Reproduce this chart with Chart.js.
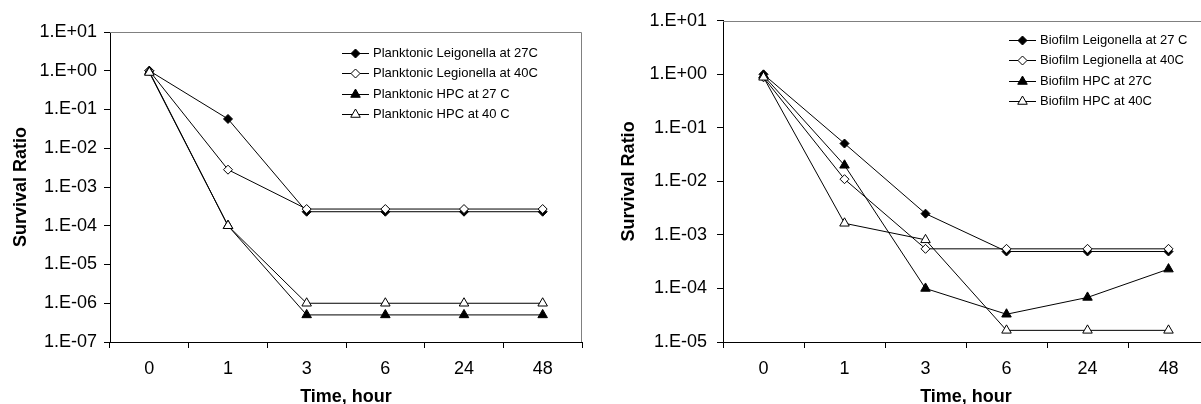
<!DOCTYPE html>
<html>
<head>
<meta charset="utf-8">
<script src="https://cdn.jsdelivr.net/npm/chart.js@4.4.1/dist/chart.umd.min.js"></script>
<style>
  html, body { margin: 0; padding: 0; background: #fff; overflow: hidden; width: 1201px; height: 404px; }
  #left { position: absolute; left: 0; top: 0; }
  #right { position: absolute; left: 600px; top: 0; }
</style>
</head>
<body>
<canvas id="left" width="600" height="410"></canvas>
<canvas id="right" width="620" height="410"></canvas>
<script>
// categories (time, hours)
const hours = ['0', '1', '3', '6', '24', '48'];

// planktonic survival ratios
const planktonicNames = ['Planktonic Leigonella at 27C', 'Planktonic Legionella at 40C', 'Planktonic HPC at 27 C', 'Planktonic HPC at 40 C'];
const planktonicLeg27 = [1.0, 5.7e-2, 2.3e-4, 2.3e-4, 2.3e-4, 2.3e-4];
const planktonicLeg40 = [1.0, 2.8e-3, 2.7e-4, 2.7e-4, 2.7e-4, 2.7e-4];
const planktonicHpc27 = [0.95, 1.0e-4, 5.0e-7, 5.0e-7, 5.0e-7, 5.0e-7];
const planktonicHpc40 = [0.9, 1.0e-4, 1.0e-6, 1.0e-6, 1.0e-6, 1.0e-6];

// biofilm survival ratios
const biofilmNames = ['Biofilm Leigonella at 27 C', 'Biofilm Legionella at 40C', 'Biofilm HPC at 27C', 'Biofilm HPC at 40C'];
const biofilmLeg27 = [1.0, 5.1e-2, 2.5e-3, 4.9e-4, 4.9e-4, 4.9e-4];
const biofilmLeg40 = [0.88, 1.1e-2, 5.5e-4, 5.5e-4, 5.5e-4, 5.5e-4];
const biofilmHpc27 = [0.95, 2.0e-2, 1.0e-4, 3.3e-5, 6.8e-5, 2.3e-4];
const biofilmHpc40 = [0.88, 1.65e-3, 8.1e-4, 1.65e-5, 1.65e-5, 1.65e-5];

// y axis ticks
const planktonicTicks = [1e1, 1e0, 1e-1, 1e-2, 1e-3, 1e-4, 1e-5, 1e-6, 1e-7];
const planktonicTickLabels = ['1.E+01', '1.E+00', '1.E-01', '1.E-02', '1.E-03', '1.E-04', '1.E-05', '1.E-06', '1.E-07'];
const biofilmTicks = [1e1, 1e0, 1e-1, 1e-2, 1e-3, 1e-4, 1e-5];
const biofilmTickLabels = ['1.E+01', '1.E+00', '1.E-01', '1.E-02', '1.E-03', '1.E-04', '1.E-05'];

const FONT = '"Liberation Sans", Arial, sans-serif';
Chart.defaults.font.family = FONT;
Chart.defaults.color = '#000';

const markerStyles = [
    { pointStyle: 'rectRot', fill: '#000', radius: 4.5 },
    { pointStyle: 'rectRot', fill: '#fff', radius: 4.5 },
    { pointStyle: 'triangle', fill: '#000', radius: 5.5 },
    { pointStyle: 'triangle', fill: '#fff', radius: 5.5 }
];

function makeDataset(label, data, i) {
    const m = markerStyles[i];
    return {
        label: label,
        data: data,
        order: 3 - i, // later series drawn on top, like the original
        borderColor: '#000',
        borderWidth: 1,
        tension: 0,
        pointStyle: m.pointStyle,
        pointRadius: m.radius,
        pointHoverRadius: m.radius,
        pointBackgroundColor: m.fill,
        pointBorderColor: '#000',
        pointBorderWidth: 1
    };
}

// simple marker drawing for the legend
function drawMarker(ctx, style, r, x, y) {
    ctx.beginPath();
    if (style === 'rectRot') {
        ctx.moveTo(x, y - r);
        ctx.lineTo(x + r, y);
        ctx.lineTo(x, y + r);
        ctx.lineTo(x - r, y);
    } else {
        ctx.moveTo(x, y - r);
        ctx.lineTo(x + r * 0.866, y + r * 0.5);
        ctx.lineTo(x - r * 0.866, y + r * 0.5);
    }
    ctx.closePath();
    ctx.fill();
    ctx.stroke();
}

// grey top/right frame plus the legend inside the plot
const frameAndLegend = {
    id: 'frameAndLegend',
    afterDatasetsDraw(chart, args, opts) {
        const ctx = chart.ctx;
        const a = chart.chartArea;
        ctx.save();
        ctx.strokeStyle = '#808080';
        ctx.lineWidth = 1;
        ctx.beginPath();
        ctx.moveTo(a.left, Math.round(a.top) + 0.5);
        ctx.lineTo(Math.round(a.right) - 0.5, Math.round(a.top) + 0.5);
        ctx.lineTo(Math.round(a.right) - 0.5, a.bottom);
        ctx.stroke();

        ctx.font = '13px ' + FONT;
        ctx.textBaseline = 'middle';
        ctx.textAlign = 'left';
        chart.data.datasets.forEach((ds, i) => {
            const y = Math.round(opts.y + i * opts.step) + 0.5;
            ctx.strokeStyle = '#000';
            ctx.beginPath();
            ctx.moveTo(opts.x, y);
            ctx.lineTo(opts.x + 27, y);
            ctx.stroke();
            ctx.fillStyle = ds.pointBackgroundColor;
            drawMarker(ctx, ds.pointStyle, ds.pointRadius, opts.x + 13.5, y);
            ctx.fillStyle = '#000';
            ctx.fillText(ds.label, opts.x + 31, y);
        });
        ctx.restore();
    }
};

function makeScales(ticks, tickLabels, yWidth, yTitlePad, yPad) {
    return {
        x: {
            type: 'category',
            offset: true,
            grid: { offset: true, drawOnChartArea: false, drawTicks: true, tickLength: 6, color: '#000' },
            border: { color: '#000', width: 1 },
            ticks: { padding: 10, font: { size: 18 }, color: '#000', maxRotation: 0, autoSkip: false },
            title: { display: true, text: 'Time, hour', font: { size: 18, weight: 'bold' }, padding: { top: 0, bottom: 2 }, color: '#000' },
            afterFit: s => { s.height = 68; }
        },
        y: {
            type: 'logarithmic',
            min: ticks[ticks.length - 1],
            max: ticks[0],
            grid: { drawOnChartArea: false, drawTicks: true, tickLength: 6, color: '#000' },
            border: { color: '#000', width: 1 },
            ticks: {
                padding: yPad,
                font: { size: 18 },
                color: '#000',
                autoSkip: false,
                callback: function (value) {
                    const i = ticks.findIndex(t => Math.abs(Math.log10(t) - Math.log10(value)) < 1e-6);
                    return i >= 0 ? tickLabels[i] : '';
                }
            },
            afterBuildTicks: s => { s.ticks = ticks.map(v => ({ value: v })); },
            title: { display: true, text: 'Survival Ratio', font: { size: 18, weight: 'bold' }, padding: { top: yTitlePad, bottom: 0 }, color: '#000' },
            afterFit: s => { s.width = yWidth; }
        }
    };
}

let planktonicChart = new Chart(document.getElementById('left').getContext('2d'), {
    type: 'line',
    data: {
        labels: hours,
        datasets: [
            makeDataset(planktonicNames[0], planktonicLeg27, 0),
            makeDataset(planktonicNames[1], planktonicLeg40, 1),
            makeDataset(planktonicNames[2], planktonicHpc27, 2),
            makeDataset(planktonicNames[3], planktonicHpc40, 3)
        ]
    },
    options: {
        responsive: false,
        animation: false,
        layout: { padding: { left: 0, right: 18, top: 32, bottom: 0 } },
        plugins: {
            legend: { display: false },
            tooltip: { enabled: false },
            frameAndLegend: { x: 342, y: 53, step: 20.3 }
        },
        scales: makeScales(planktonicTicks, planktonicTickLabels, 110, 10, 7)
    },
    plugins: [frameAndLegend]
});

let biofilmChart = new Chart(document.getElementById('right').getContext('2d'), {
    type: 'line',
    data: {
        labels: hours,
        datasets: [
            makeDataset(biofilmNames[0], biofilmLeg27, 0),
            makeDataset(biofilmNames[1], biofilmLeg40, 1),
            makeDataset(biofilmNames[2], biofilmHpc27, 2),
            makeDataset(biofilmNames[3], biofilmHpc40, 3)
        ]
    },
    options: {
        responsive: false,
        animation: false,
        layout: { padding: { left: 0, right: 11, top: 16, bottom: 0 } },
        plugins: {
            legend: { display: false },
            tooltip: { enabled: false },
            frameAndLegend: { x: 409, y: 40, step: 20.3 }
        },
        scales: makeScales(biofilmTicks, biofilmTickLabels, 123, 18, 10)
    },
    plugins: [frameAndLegend]
});
</script>
</body>
</html>
